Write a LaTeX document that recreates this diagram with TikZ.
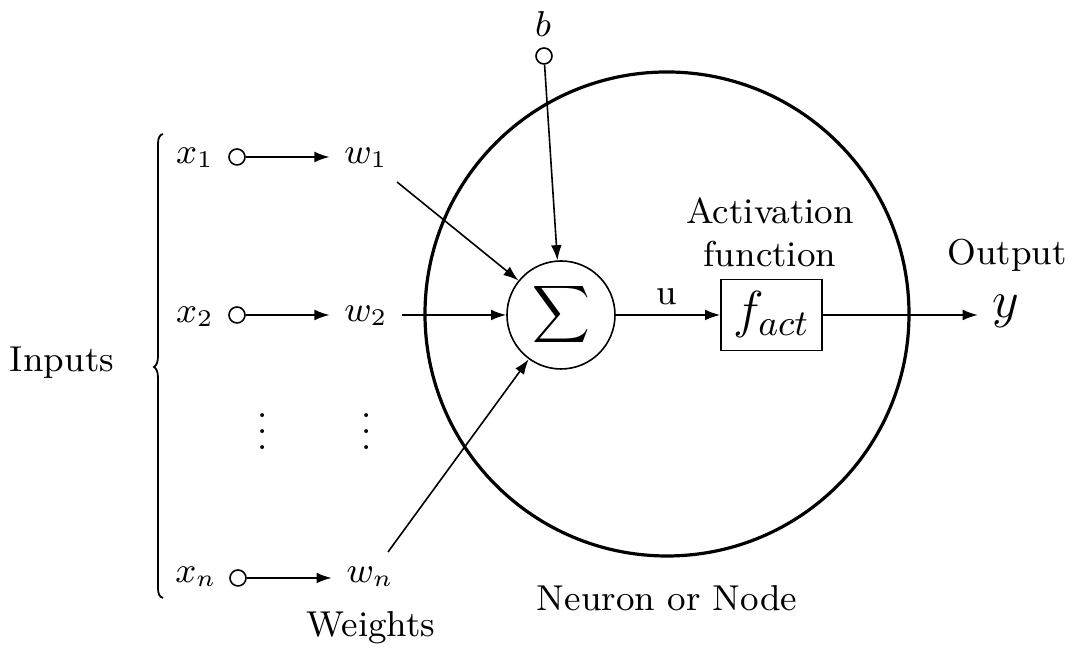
\documentclass[tikz,border=0pt]{standalone}
\usepackage{fix-cm}
\usetikzlibrary{arrows.meta,calc}
\begin{document}
\begin{tikzpicture}[x=0.25pt,y=-0.25pt,
  lbl/.style={inner sep=3.5pt, font=\fontsize{9}{10.75}\selectfont},
  big/.style={inner sep=3.5pt, font=\fontsize{13}{14}\selectfont},
  arr/.style={-{Latex[length=3.8pt,width=2.7pt]}, line width=0.4pt},
  port/.style={circle,draw,line width=0.4pt,minimum size=4pt,inner sep=0pt},
  bracestyle/.style={line width=0.45pt},
  ]
\useasboundingbox (0,0) rectangle (1074,648);
% neuron body
\node[circle,draw,line width=0.8pt,minimum size=121pt,inner sep=0pt] (neuron) at (667,314) {};
% bias
\node[lbl] (b) at (543,24) {$b$};
\node[port] (bp) at (544,56) {};
% summation and activation
\node[circle,draw,line width=0.4pt,minimum size=27pt,inner sep=0pt] (sigma) at (561,315) {\fontsize{12}{13}\selectfont$\displaystyle\sum$};
\node[draw,line width=0.4pt,minimum width=25.25pt,minimum height=17.75pt,inner sep=0pt] (fact) at (771.5,315) {\fontsize{13}{14}\selectfont$f_{act}$};
\node[lbl] (u) at (667,297) {u};
\node[lbl,align=center] (actlbl) at (770,232) {Activation\\function};
\node[lbl] (outlbl) at (1007,255) {Output};
\node[big] (y) at (1006,311) {$y$};
% inputs
\node[lbl] (x1) at (195,158) {$x_1$};
\node[port] (p1) at (237,157) {};
\node[lbl] (w1) at (366,158) {$w_1$};
\node[lbl] (x2) at (195,317) {$x_2$};
\node[port] (p2) at (237,315) {};
\node[lbl] (w2) at (366,316) {$w_2$};
\node[lbl] (xn) at (196,577) {$x_n$};
\node[port] (pn) at (238,578) {};
\node[lbl] (wn) at (370,577) {$w_n$};
\node[lbl] (d1) at (263,420) {$\vdots$};
\node[lbl] (d2) at (367,420) {$\vdots$};
% labels
\node[lbl] (inputs) at (62,363) {Inputs};
\node[lbl] (weights) at (371,628) {Weights};
\node[lbl] (nlabel) at (667,598) {Neuron or Node};
% brace
\draw[bracestyle] (163,134) .. controls (159.5,135) and (158,138) .. (158,144) -- (158,356)
  .. controls (158,362) and (156.5,365.5) .. (154,367)
  .. controls (156.5,368.5) and (158,372) .. (158,378) -- (158,588)
  .. controls (158,594) and (159.5,597) .. (163,598);
% connectors
\draw[arr] (p1) -- (p1 -| w1.west);
\draw[arr] (p2) -- (p2 -| w2.west);
\draw[arr] (pn) -- (pn -| wn.west);
\draw[arr] ($(w1)+(31,24)$) -- (sigma);
\draw[arr] ($(w2)+(36,-1)$) -- (sigma);
\draw[arr] ($(wn)+(18,-25)$) -- (sigma);
\draw[arr] (bp) -- (sigma);
\draw[arr] (sigma) -- (fact);
\draw[arr] (fact.east) -- (y.west |- fact.east);
\end{tikzpicture}
\end{document}
